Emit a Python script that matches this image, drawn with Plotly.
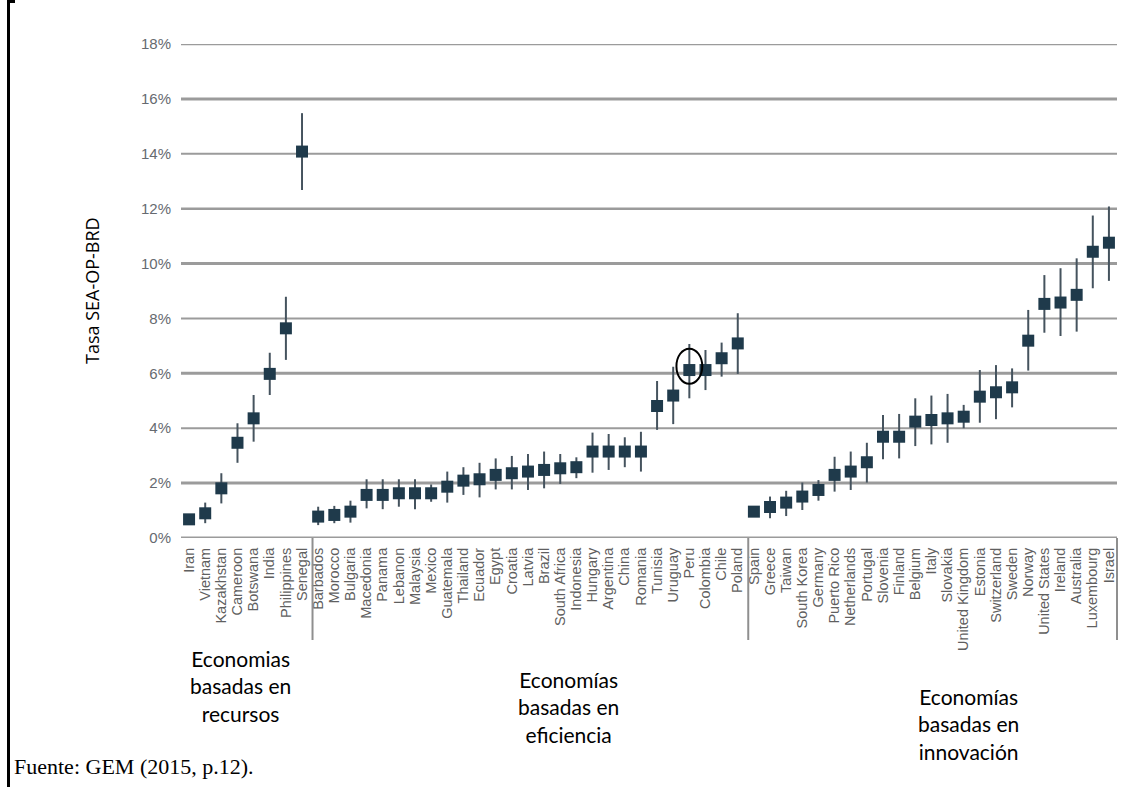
import plotly.graph_objects as go

# ---------------- data ----------------
resource_countries = ["Iran", "Vietnam", "Kazakhstan", "Cameroon", "Botswana", "India", "Philippines", "Senegal"]
resource_values = [0.68, 0.90, 1.81, 3.47, 4.36, 5.98, 7.64, 14.08]
resource_high = [0.85, 1.29, 2.36, 4.18, 5.21, 6.75, 8.79, 15.48]
resource_low = [0.52, 0.54, 1.26, 2.74, 3.51, 5.21, 6.49, 12.68]

efficiency_countries = ["Barbados", "Morocco", "Bulgaria", "Macedonia", "Panama", "Lebanon", "Malaysia",
                        "Mexico", "Guatemala", "Thailand", "Ecuador", "Egypt", "Croatia", "Latvia", "Brazil",
                        "South Africa", "Indonesia", "Hungary", "Argentina", "China", "Romania", "Tunisia",
                        "Uruguay", "Peru", "Colombia", "Chile", "Poland"]
efficiency_values = [0.78, 0.84, 0.96, 1.57, 1.57, 1.63, 1.63, 1.63, 1.87, 2.09, 2.14, 2.30, 2.36, 2.42, 2.48,
                     2.54, 2.58, 3.15, 3.15, 3.15, 3.15, 4.81, 5.19, 6.12, 6.12, 6.55, 7.09]
efficiency_high = [1.14, 1.17, 1.36, 2.14, 2.14, 2.14, 2.14, 1.95, 2.42, 2.58, 2.74, 2.90, 2.99, 3.06, 3.15,
                   3.06, 2.94, 3.84, 3.79, 3.67, 3.87, 5.72, 6.24, 7.07, 6.85, 7.12, 8.19]
efficiency_low = [0.47, 0.54, 0.56, 1.08, 1.05, 1.14, 1.05, 1.32, 1.29, 1.57, 1.48, 1.77, 1.77, 1.75, 1.81,
                  1.97, 2.18, 2.38, 2.48, 2.58, 2.42, 3.94, 4.15, 5.09, 5.39, 5.88, 5.98]

innovation_countries = ["Spain", "Greece", "Taiwan", "South Korea", "Germany", "Puerto Rico", "Netherlands",
                        "Portugal", "Slovenia", "Finland", "Belgium", "Italy", "Slovakia", "United Kingdom",
                        "Estonia", "Switzerland", "Sweden", "Norway", "United States", "Ireland", "Australia",
                        "Luxembourg", "Israel"]
innovation_values = [0.96, 1.13, 1.29, 1.51, 1.75, 2.30, 2.42, 2.76, 3.69, 3.69, 4.24, 4.30, 4.36, 4.42,
                     5.15, 5.31, 5.49, 7.19, 8.53, 8.58, 8.86, 10.43, 10.76]
innovation_high = [1.05, 1.51, 1.72, 2.02, 2.11, 2.96, 3.15, 3.47, 4.48, 4.52, 5.09, 5.19, 5.25, 4.85,
                   6.12, 6.30, 6.18, 8.31, 9.58, 9.83, 10.19, 11.75, 12.08]
innovation_low = [0.88, 0.72, 0.80, 1.02, 1.36, 1.69, 1.75, 2.02, 2.87, 2.90, 3.35, 3.41, 3.47, 4.00,
                  4.20, 4.33, 4.76, 6.10, 7.48, 7.36, 7.52, 9.10, 9.37]

y_ticks = [0, 2, 4, 6, 8, 10, 12, 14, 16, 18]
group_labels = ["Economias<br>basadas en<br>recursos",
                "Economías<br>basadas en<br>eficiencia",
                "Economías<br>basadas en<br>innovación"]
y_title = "Tasa SEA-OP-BRD"
source_text = "Fuente: GEM (2015, p.12)."
highlight_country = "Peru"

# ---------------- assemble ----------------
countries = resource_countries + efficiency_countries + innovation_countries
values = resource_values + efficiency_values + innovation_values
highs = resource_high + efficiency_high + innovation_high
lows = resource_low + efficiency_low + innovation_low
xs = list(range(len(countries)))
err_plus = [h - v for h, v in zip(highs, values)]
err_minus = [v - l for v, l in zip(values, lows)]

# pixel geometry helpers (figure 1132x787)
L, R, T, B = 181, 15, 44, 249
PW = 1132 - L - R
PH = 787 - T - B


def px_x(px):
    return (px - L) / PW


def px_y(py):
    return (787 - B - py) / PH


fig = go.Figure()
fig.add_trace(go.Scatter(
    x=xs, y=values, mode="markers",
    marker=dict(symbol="square", size=12, color="#1f3a4b"),
    error_y=dict(type="data", symmetric=False, array=err_plus, arrayminus=err_minus,
                 width=0, thickness=2, color="#45535e"),
    hoverinfo="skip", showlegend=False,
))

shapes = []
grid_widths = {0: 3, 2: 3, 4: 2, 6: 3, 8: 2, 10: 3, 12: 2.5, 14: 2, 16: 3, 18: 2.5}
for t in y_ticks:
    shapes.append(dict(type="line", xref="paper", yref="y", x0=0, x1=1, y0=t, y1=t,
                       line=dict(color="#9b9b9b", width=grid_widths.get(t, 2)), layer="below"))

n_res = len(resource_countries)
n_eff = len(efficiency_countries)
for sep in [n_res - 0.35, n_res + n_eff - 0.35]:
    shapes.append(dict(type="line", xref="x", yref="paper", x0=sep, x1=sep, y0=0, y1=px_y(640),
                       line=dict(color="#8f8f8f", width=2)))
shapes.append(dict(type="line", xref="paper", yref="paper", x0=1, x1=1, y0=0, y1=px_y(640),
                   line=dict(color="#8f8f8f", width=2)))

# highlight ellipse around Peru
pi = countries.index(highlight_country)
shapes.append(dict(type="circle", xref="x", yref="y", x0=pi - 0.8, x1=pi + 0.8,
                   y0=values[pi] - 0.5, y1=values[pi] + 0.78,
                   line=dict(color="black", width=2)))

# left page border
shapes.append(dict(type="line", xref="paper", yref="paper", x0=px_x(8.5), x1=px_x(8.5),
                   y0=px_y(0), y1=px_y(787), line=dict(color="black", width=3)))
shapes.append(dict(type="line", xref="paper", yref="paper", x0=px_x(7), x1=px_x(15),
                   y0=px_y(1.5), y1=px_y(1.5), line=dict(color="black", width=3)))

annotations = []
centers = [(240, 686), (568, 707), (968, 724)]
for text, (cx, cy) in zip(group_labels, centers):
    annotations.append(dict(text=text, xref="paper", yref="paper", x=px_x(cx), y=px_y(cy),
                            xanchor="center", yanchor="middle", showarrow=False, align="center",
                            font=dict(family="Lato", size=21, color="black")))
annotations.append(dict(text=y_title, xref="paper", yref="paper", x=px_x(92), y=px_y(291),
                        xanchor="center", yanchor="middle", showarrow=False, textangle=-90,
                        font=dict(family="Open Sans", size=18, color="black")))
annotations.append(dict(text=source_text, xref="paper", yref="paper", x=px_x(12), y=px_y(766),
                        xanchor="left", yanchor="middle", showarrow=False,
                        font=dict(family="Liberation Serif", size=22, color="black")))

fig.update_layout(
    width=1132, height=787,
    margin=dict(l=L, r=R, t=T, b=B, pad=0),
    paper_bgcolor="white", plot_bgcolor="white",
    shapes=shapes, annotations=annotations,
    xaxis=dict(range=[-0.5, len(countries) - 0.5], tickmode="array", tickvals=xs, ticktext=countries,
               tickangle=-90, showgrid=False, zeroline=False, showline=False,
               ticks="outside", ticklen=3, tickcolor="rgba(0,0,0,0)",
               tickfont=dict(family="Liberation Sans", size=14.5, color="#5f5f5f")),
    yaxis=dict(range=[0, 18], tickmode="array", tickvals=y_ticks,
               ticktext=[f"{t}%" for t in y_ticks], showgrid=False, zeroline=False, showline=False,
               ticks="outside", ticklen=6, tickcolor="rgba(0,0,0,0)",
               tickfont=dict(family="Liberation Sans", size=15, color="#666a70")),
)

fig.write_html("out.html")
